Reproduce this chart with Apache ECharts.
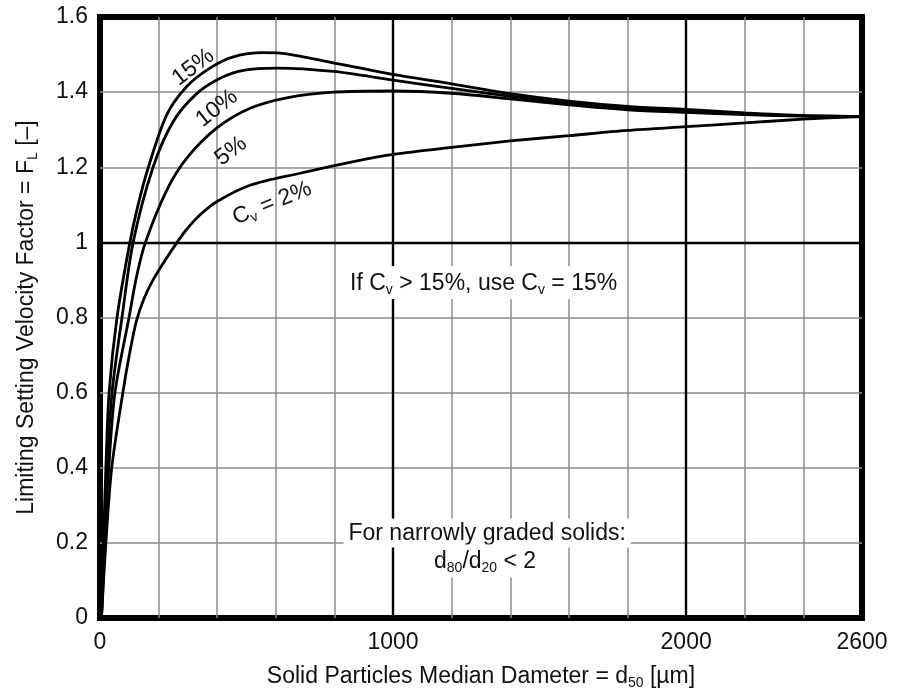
<!DOCTYPE html>
<html>
<head>
<meta charset="utf-8">
<title>Limiting Settling Velocity Factor</title>
<script src="https://cdn.jsdelivr.net/npm/echarts@6/dist/echarts.min.js"></script>
<style>
  html, body { margin: 0; padding: 0; background: #fff; }
  #chart { width: 897px; height: 695px; }
</style>
</head>
<body>
<div id="chart"></div>
<script>
// [d50 in µm, F_L]
const cv15 = [[5, 0], [12, 0.2], [20, 0.4], [31, 0.6], [58, 0.8], [102, 1.0], [130, 1.1], [165, 1.2], [228, 1.34],
  [296, 1.415], [375, 1.464], [455, 1.494], [557, 1.505], [637, 1.502], [796, 1.478], [1000, 1.447],
  [1200, 1.422], [1400, 1.396], [1600, 1.376], [1800, 1.362], [2000, 1.354], [2200, 1.345], [2400, 1.338], [2600, 1.335]];
const cv10 = [[5, 0], [14, 0.2], [24, 0.4], [41, 0.6], [75, 0.8], [113, 1.0], [181, 1.2], [250, 1.322],
  [330, 1.396], [410, 1.437], [489, 1.458], [603, 1.464], [796, 1.455], [1000, 1.432], [1200, 1.41],
  [1400, 1.389], [1600, 1.371], [1800, 1.358], [2000, 1.35], [2200, 1.342], [2400, 1.337], [2600, 1.335]];
const cv5 = [[5, 0], [16, 0.2], [30, 0.4], [51, 0.6], [99, 0.8], [125, 0.91], [155, 1.0], [228, 1.139], [296, 1.224],
  [398, 1.304], [512, 1.357], [637, 1.385], [796, 1.4], [1000, 1.403], [1200, 1.397], [1400, 1.382],
  [1600, 1.366], [1800, 1.353], [2000, 1.346], [2200, 1.34], [2400, 1.336], [2600, 1.335]];
const cv2 = [[5, 0], [20, 0.2], [40, 0.4], [78, 0.6], [100, 0.7], [124, 0.79], [150, 0.85], [181, 0.9],
  [220, 0.95], [263, 1.0], [296, 1.035], [340, 1.072], [398, 1.108], [512, 1.152], [683, 1.184], [853, 1.213],
  [1000, 1.234], [1200, 1.253], [1400, 1.27], [1600, 1.284], [1800, 1.298], [2000, 1.308], [2200, 1.318],
  [2400, 1.328], [2600, 1.335]];

const xTickLabels = [0, 1000, 2000, 2600];
const majorX = [1000, 2000];
const majorY = [1];

const font = 'Liberation Sans, Arial, sans-serif';
const sub = { fontSize: 14, padding: [13, 0, 0, 0], fontFamily: font, color: '#111' };
const txt = { fontSize: 23, fontFamily: font, color: '#111' };

const chart = echarts.init(document.getElementById('chart'));

function curve(data) {
  return {
    type: 'line',
    data: data,
    smooth: 0.3,
    showSymbol: false,
    z: 3,
    lineStyle: { color: '#000', width: 2.8 }
  };
}

// text notes, placed in data coordinates
function note(coord, text, rotate, bg) {
  return {
    coord: coord,
    symbol: 'rect',
    symbolSize: 1,
    itemStyle: { color: 'rgba(0,0,0,0)' },
    label: {
      show: true,
      position: 'inside',
      rotate: rotate,
      formatter: text,
      backgroundColor: bg ? '#fff' : 'transparent',
      padding: bg ? [4, 5, 2, 5] : 0,
      rich: { n: txt, s: sub }
    }
  };
}

const option = {
  animation: false,
  backgroundColor: '#fff',
  grid: {
    left: 100, right: 35, top: 17, bottom: 74,
    show: true, borderColor: '#000', borderWidth: 6, backgroundColor: 'transparent'
  },
  xAxis: {
    type: 'value', min: 0, max: 2600, interval: 200,
    axisLine: { show: false },
    axisTick: { show: false },
    axisLabel: {
      margin: 13, fontSize: 23, fontFamily: font, color: '#111',
      formatter: v => (xTickLabels.indexOf(v) >= 0 ? String(v) : '')
    },
    splitLine: { showMinLine: false, showMaxLine: false, lineStyle: { color: '#8c8c8c', width: 1.5 } },
    name: '{n|Solid Particles Median Dameter = d}{s|50}{n| [µm]}',
    nameLocation: 'middle',
    nameGap: 45,
    nameTextStyle: { rich: { n: txt, s: sub } }
  },
  yAxis: {
    type: 'value', min: 0, max: 1.6, interval: 0.2,
    axisLine: { show: false },
    axisTick: { show: false },
    axisLabel: {
      margin: 12, fontSize: 23, fontFamily: font, color: '#111',
      formatter: v => String(Math.round(v * 10) / 10)
    },
    splitLine: { showMinLine: false, showMaxLine: false, lineStyle: { color: '#8c8c8c', width: 1.5 } },
    name: '{n|Limiting Setting Velocity Factor = F}{s|L}{n| [–]}',
    nameLocation: 'middle',
    nameGap: 60,
    nameTextStyle: { rich: { n: txt, s: sub } }
  },
  series: [
    {
      type: 'line',
      data: [],
      z: 2,
      markLine: {
        silent: true,
        symbol: 'none',
        label: { show: false },
        lineStyle: { color: '#000', width: 2.4, type: 'solid' },
        data: majorX.map(v => ({ xAxis: v })).concat(majorY.map(v => ({ yAxis: v })))
      }
    },
    curve(cv15),
    curve(cv10),
    curve(cv5),
    curve(cv2),
    {
      type: 'line',
      data: [],
      z: 5,
      markPoint: {
        silent: true,
        data: [
          note([318, 1.466], '{n|15%}', 37, false),
          note([399, 1.357], '{n|10%}', 38, false),
          note([447, 1.243], '{n|5%}', 37, false),
          note([587, 1.104], '{n|C}{s|v}{n| = 2%}', 22, false),
          note([1309, 0.893], '{n|If C}{s|v}{n| > 15%, use C}{s|v}{n| = 15%}', 0, true),
          note([1321, 0.226], '{n|For narrowly graded solids:}', 0, true),
          note([1314, 0.152], '{n|d}{s|80}{n|/d}{s|20}{n| < 2}', 0, true)
        ]
      }
    }
  ]
};

chart.setOption(option);
</script>
</body>
</html>
